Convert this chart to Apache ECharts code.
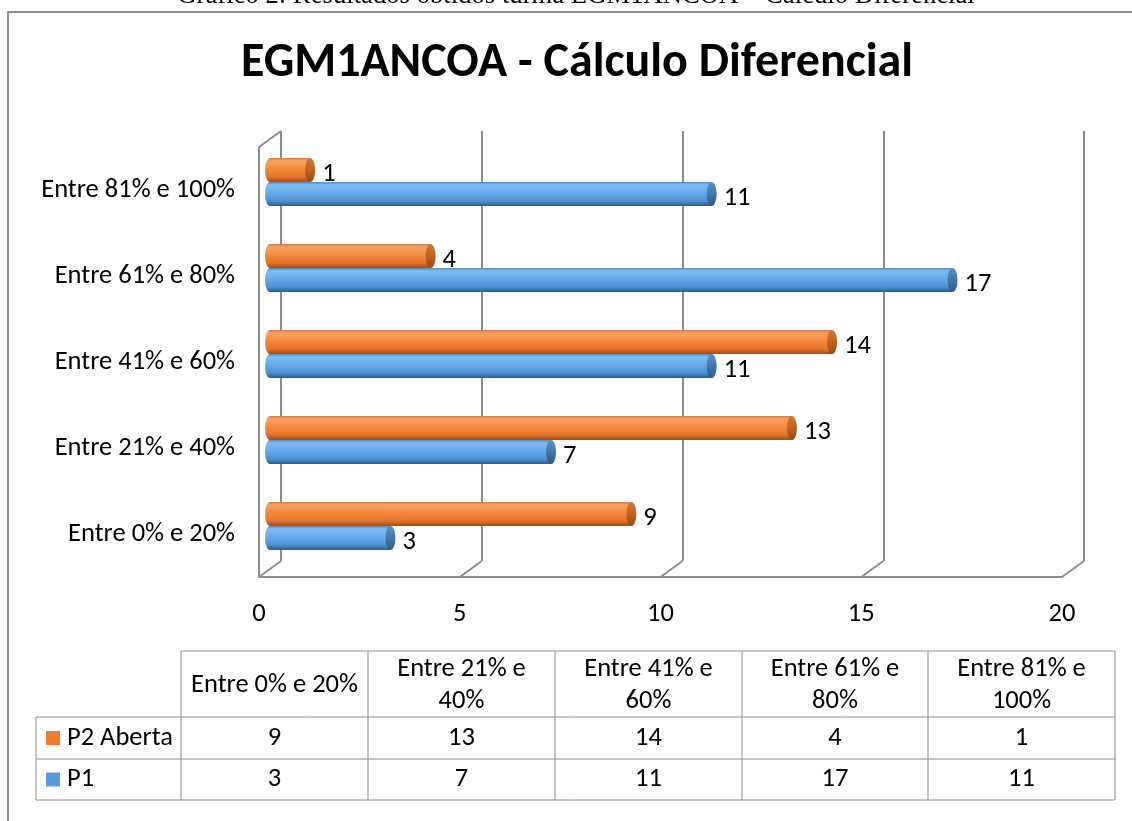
<!DOCTYPE html>
<html>
<head>
<meta charset="utf-8">
<script src="https://cdn.jsdelivr.net/npm/echarts@6/dist/echarts.min.js"></script>
<style>
html, body { margin: 0; padding: 0; background: #fff; }
#chart { width: 1132px; height: 821px; }
</style>
</head>
<body>
<div id="chart"></div>
<script>
// data
var categories = ['Entre 0% e 20%', 'Entre 21% e 40%', 'Entre 41% e 60%', 'Entre 61% e 80%', 'Entre 81% e 100%'];
var tableHeaders = ['Entre 0% e 20%', 'Entre 21% e\n40%', 'Entre 41% e\n60%', 'Entre 61% e\n80%', 'Entre 81% e\n100%'];
var p2Aberta = [9, 13, 14, 4, 1];
var p1 = [3, 7, 11, 17, 11];
var xTicks = [0, 5, 10, 15, 20];
var seriesNames = ['P2 Aberta', 'P1'];

var FONT = 'Carlito, Lato, sans-serif';
var FS = 26.5;
var GRID_COLOR = '#8c8c8c';
var ORANGE = '#ed7d31';
var BLUE = '#5b9bd5';

var chart = echarts.init(document.getElementById('chart'));

function grad(stops) {
    return new echarts.graphic.LinearGradient(0, 0, 0, 1, stops);
}

var orangeBody = [
    {offset: 0, color: '#d8783a'},
    {offset: 0.12, color: '#f7a468'},
    {offset: 0.45, color: '#f68a3b'},
    {offset: 0.8, color: '#e0722a'},
    {offset: 1, color: '#9c4c17'}
];
var orangeCap = [
    {offset: 0, color: '#d47636'},
    {offset: 0.5, color: '#bf6222'},
    {offset: 1, color: '#97491a'}
];
var blueBody = [
    {offset: 0, color: '#4f8bc6'},
    {offset: 0.12, color: '#7fbcf1'},
    {offset: 0.45, color: '#64abec'},
    {offset: 0.8, color: '#4f8fd0'},
    {offset: 1, color: '#2c5985'}
];
var blueCap = [
    {offset: 0, color: '#5b8fc4'},
    {offset: 0.5, color: '#4677aa'},
    {offset: 1, color: '#2d5a86'}
];

// cylinder bars, drawn through the bar grid's axes
function cylinder(body, cap, shift) {
    return function (params, api) {
        var cat = api.value(1);
        var val = api.value(0);
        var start = api.coord([0, cat]);
        var end = api.coord([val, cat]);
        var h = 24, ry = h / 2, rx = 5;
        var cy = start[1] + shift;
        var x0 = start[0], x1 = end[0];
        return {
            type: 'group',
            children: [
                {type: 'circle', x: x0, y: cy, scaleX: rx / ry, shape: {cx: 0, cy: 0, r: ry}, style: {fill: grad(body)}},
                {type: 'rect', shape: {x: x0, y: cy - ry, width: x1 - x0, height: h}, style: {fill: grad(body)}},
                {type: 'circle', x: x1, y: cy, scaleX: rx / ry, shape: {cx: 0, cy: 0, r: ry}, style: {fill: grad(cap)}},
                {type: 'text', x: x1 + rx + 7, y: cy + 4,
                    style: {text: String(val), fill: '#000', fontSize: FS, fontFamily: FONT, verticalAlign: 'middle', align: 'left'}}
            ]
        };
    };
}

function pairs(values) {
    var out = [];
    for (var i = 0; i < values.length; i++) {
        out.push([values[i], i]);
    }
    return out;
}

// data table under the chart
var colEdges = [36, 181, 368, 555, 742, 928, 1115];
var rowEdges = [651, 717, 759, 800];
var tableEls = [];
function hline(x1, x2, y) {
    tableEls.push({type: 'line', shape: {x1: x1, y1: y, x2: x2, y2: y}, style: {stroke: GRID_COLOR, lineWidth: 1}});
}
function vline(x, y1, y2) {
    tableEls.push({type: 'line', shape: {x1: x, y1: y1, x2: x, y2: y2}, style: {stroke: GRID_COLOR, lineWidth: 1}});
}
hline(colEdges[1], colEdges[6], rowEdges[0]);
hline(colEdges[0], colEdges[6], rowEdges[1]);
hline(colEdges[0], colEdges[6], rowEdges[2]);
hline(colEdges[0], colEdges[6], rowEdges[3]);
vline(colEdges[0], rowEdges[1], rowEdges[3]);
for (var c = 1; c < colEdges.length; c++) {
    vline(colEdges[c], rowEdges[0], rowEdges[3]);
}
for (var i = 0; i < tableHeaders.length; i++) {
    tableEls.push({
        type: 'text',
        x: (colEdges[i + 1] + colEdges[i + 2]) / 2,
        y: (rowEdges[0] + rowEdges[1]) / 2 + 1,
        style: {text: tableHeaders[i], fontSize: FS, fontFamily: FONT, fill: '#000', align: 'center', verticalAlign: 'middle', lineHeight: 32}
    });
}
var tableRows = [p2Aberta, p1];
var rowColors = [ORANGE, BLUE];
for (var r = 0; r < tableRows.length; r++) {
    var yMid = (rowEdges[r + 1] + rowEdges[r + 2]) / 2;
    tableEls.push({type: 'rect', shape: {x: 46, y: yMid - 7, width: 14, height: 14}, style: {fill: rowColors[r]}});
    tableEls.push({type: 'text', x: 67, y: yMid,
        style: {text: seriesNames[r], fontSize: FS, fontFamily: FONT, fill: '#000', align: 'left', verticalAlign: 'middle'}});
    for (var k = 0; k < tableRows[r].length; k++) {
        tableEls.push({
            type: 'text',
            x: (colEdges[k + 1] + colEdges[k + 2]) / 2,
            y: yMid,
            style: {text: String(tableRows[r][k]), fontSize: FS, fontFamily: FONT, fill: '#000', align: 'center', verticalAlign: 'middle'}
        });
    }
}

var option = {
    animation: false,
    backgroundColor: '#fff',
    textStyle: {fontFamily: FONT},
    graphic: [
        {type: 'text', x: 576, y: -4, z: 10,
            style: {text: 'Gráfico 2: Resultados obtidos turma EGM1ANCOA – Cálculo Diferencial', fontSize: 26.7,
                fontFamily: '"Liberation Serif", "Times New Roman", serif', fill: '#000', align: 'center', verticalAlign: 'middle'}},
        {type: 'rect', shape: {x: 8, y: 12, width: 1300, height: 1000}, style: {fill: 'none', stroke: GRID_COLOR, lineWidth: 2}},
        {type: 'text', x: 577, y: 64,
            style: {text: 'EGM1ANCOA - Cálculo Diferencial', fontSize: 48, fontWeight: 'bold', fontFamily: FONT,
                fill: '#000', align: 'center', verticalAlign: 'middle'}},
        {type: 'group', children: tableEls}
    ],
    grid: [
        {left: 281, top: 131, width: 803, height: 430},  // back wall
        {left: 259, top: 147, width: 803, height: 430},  // front floor
        {left: 270, top: 139, width: 803, height: 430}   // bars
    ],
    xAxis: [
        {gridIndex: 0, type: 'value', min: 0, max: 20, interval: 5,
            axisLine: {show: false}, axisTick: {show: false}, axisLabel: {show: false},
            splitLine: {show: true, lineStyle: {color: GRID_COLOR, width: 2}}},
        {gridIndex: 1, type: 'value', min: 0, max: 20, interval: 5,
            axisLine: {show: true, lineStyle: {color: GRID_COLOR, width: 2}}, axisTick: {show: false},
            splitLine: {show: false},
            axisLabel: {fontSize: FS, fontFamily: FONT, color: '#000', margin: 24}},
        {gridIndex: 2, type: 'value', min: 0, max: 20, interval: 5, show: false}
    ],
    yAxis: [
        {gridIndex: 0, type: 'category', data: categories, show: false},
        {gridIndex: 1, type: 'category', data: categories,
            axisLine: {show: true, lineStyle: {color: GRID_COLOR, width: 2}}, axisTick: {show: false},
            axisLabel: {fontSize: FS, fontFamily: FONT, color: '#000', margin: 24, padding: [4, 0, 0, 0]}},
        {gridIndex: 2, type: 'category', data: categories, show: false}
    ],
    series: [
        {
            type: 'custom', name: 'frame', xAxisIndex: 1, yAxisIndex: 1, silent: true, z: 1,
            data: xTicks.map(function (t) { return [t, 0]; }),
            renderItem: function (params, api) {
                var cs = params.coordSys;
                var bx = api.coord([api.value(0), 0])[0];
                var by = cs.y + cs.height;
                var st = {stroke: GRID_COLOR, lineWidth: 2};
                var kids = [{type: 'line', shape: {x1: bx, y1: by, x2: bx + 22, y2: by - 16}, style: st}];
                if (params.dataIndex === 0) {
                    kids.push({type: 'line', shape: {x1: cs.x, y1: cs.y, x2: cs.x + 22, y2: cs.y - 16}, style: st});
                }
                return {type: 'group', children: kids};
            }
        },
        {
            type: 'custom', name: seriesNames[0], xAxisIndex: 2, yAxisIndex: 2, z: 5,
            encode: {x: 0, y: 1},
            data: pairs(p2Aberta),
            renderItem: cylinder(orangeBody, orangeCap, -12)
        },
        {
            type: 'custom', name: seriesNames[1], xAxisIndex: 2, yAxisIndex: 2, z: 5,
            encode: {x: 0, y: 1},
            data: pairs(p1),
            renderItem: cylinder(blueBody, blueCap, 12)
        }
    ]
};

chart.setOption(option);
</script>
</body>
</html>
